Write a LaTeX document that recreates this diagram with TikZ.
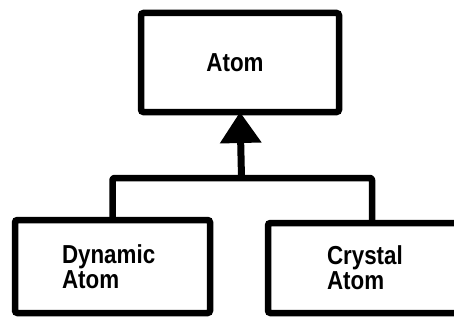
\documentclass[tikz,border=0pt]{standalone}
\usepackage{fontspec}
\newfontfamily\boxfont[FakeStretch=0.86]{Liberation Sans}
\usetikzlibrary{arrows.meta}
\begin{document}
\begin{tikzpicture}[x=1pt,y=1pt,
  classbox/.style={draw, line width=6.5pt, rounded corners=2.5pt, outer sep=0pt,
    font=\boxfont\bfseries\fontsize{26}{25}\selectfont},
  link/.style={draw, line width=6.5pt, line join=round, rounded corners=2pt}]
  \useasboundingbox (0,0) rectangle (454,322);
  % base class
  \node[classbox, minimum width=198pt, minimum height=99pt] (atom) at (240,259.5)
    {\kern-5pt Atom\kern5pt};
  % subclasses
  \node[classbox, text width=101pt, inner xsep=47pt, align=left, minimum height=93pt]
    (dyn) at (112.5,55.5) {Dynamic\\Atom};
  \node[classbox, text width=90pt, inner xsep=59pt, align=left, minimum height=90pt]
    (cry) at (372,54) {Crystal\\Atom};
  % inheritance connector
  \coordinate (j) at (241.5,144);
  \draw[link] (dyn.north) |- (j) -| (cry.north);
  \draw[line width=7pt, -{Triangle[width=40pt,length=31pt]}] (j) -- (atom.south);
\end{tikzpicture}
\end{document}
